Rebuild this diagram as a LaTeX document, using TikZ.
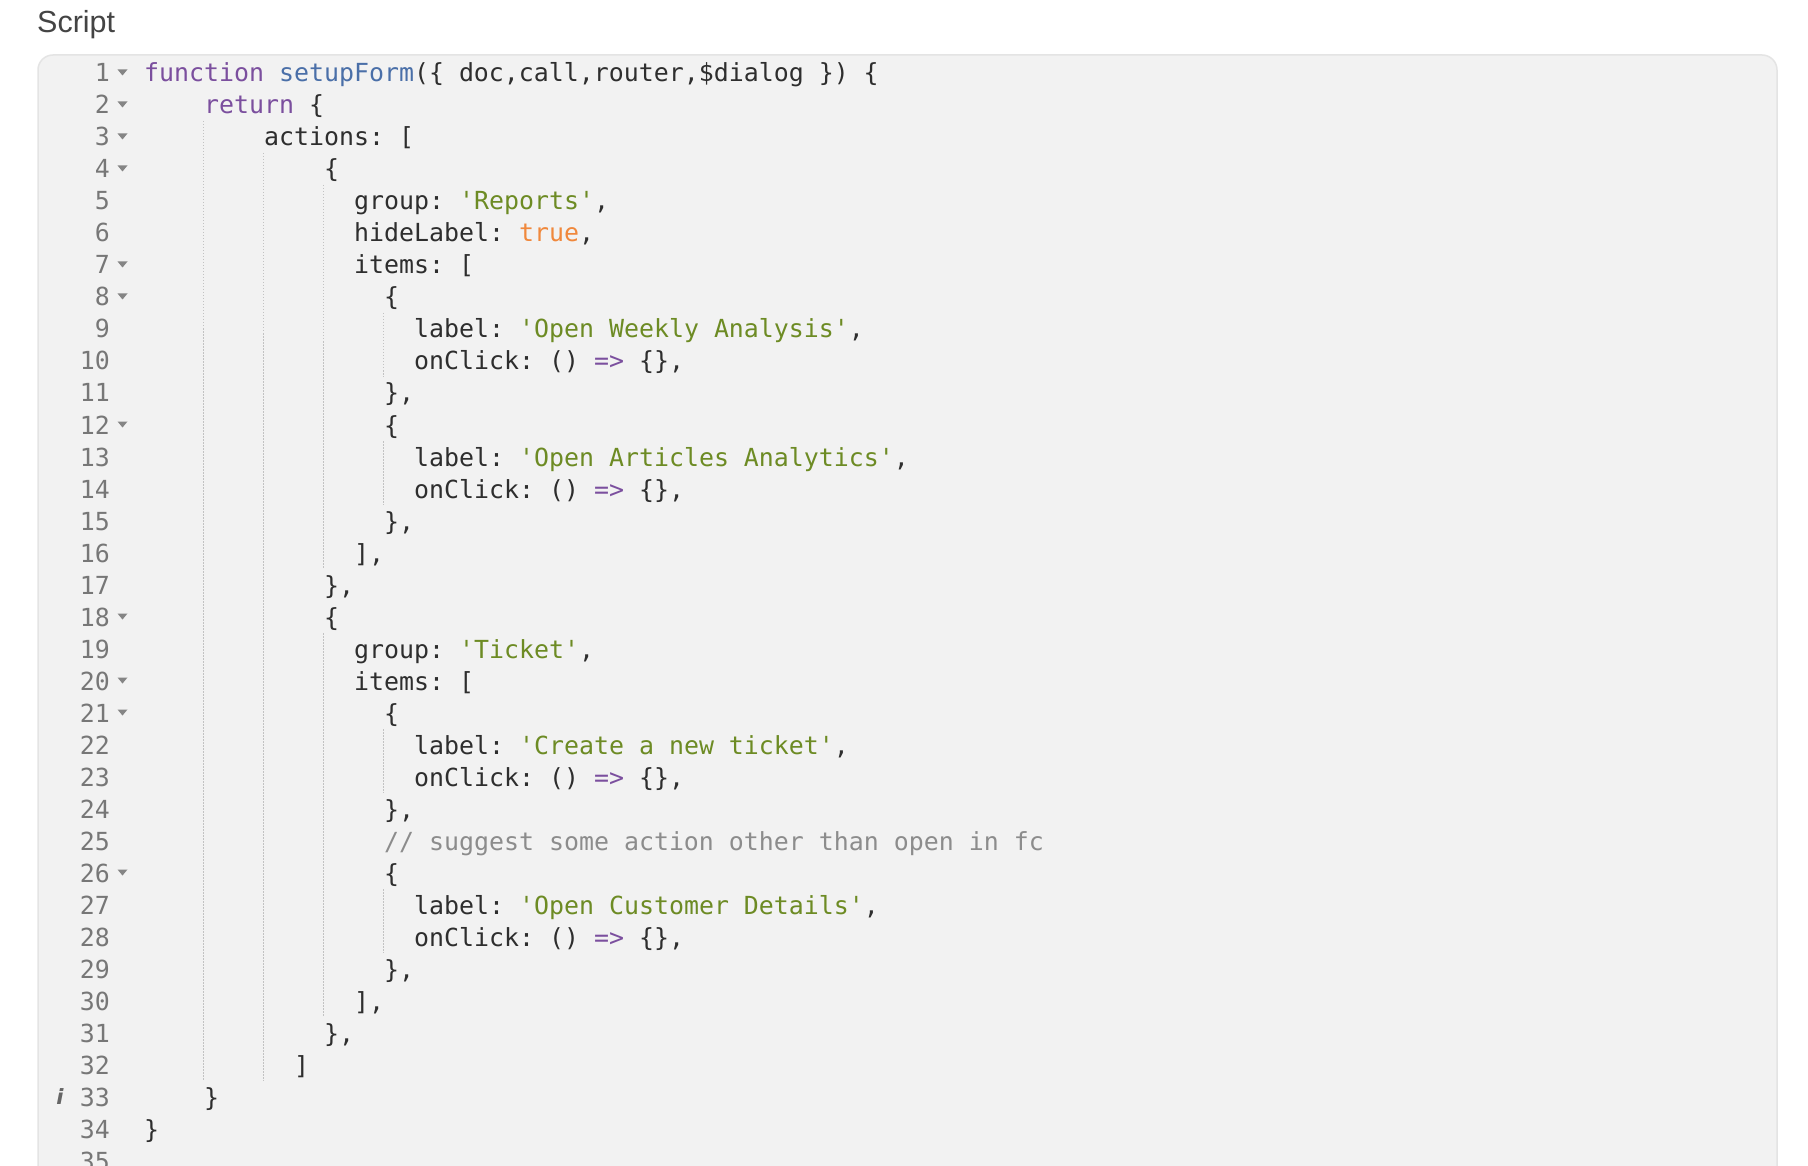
\documentclass[tikz,border=0pt]{standalone}
\usepackage{fontspec}
\setmainfont{Liberation Sans}
\newfontfamily\codefont{DejaVu Sans Mono}[Ligatures=TeXOff]
\newfontfamily\iconfont{DejaVu Sans}
\definecolor{kwc}{HTML}{7B4F9E}
\definecolor{fnc}{HTML}{4A6FA8}
\definecolor{strc}{HTML}{6D8B24}
\definecolor{boolc}{HTML}{F0883C}
\definecolor{comc}{HTML}{8C8C8C}
\definecolor{txtc}{HTML}{2E2E2E}
\definecolor{lnumc}{HTML}{777777}
\definecolor{foldc}{HTML}{858585}
\definecolor{boxfill}{HTML}{F2F2F2}
\definecolor{boxline}{HTML}{E4E4E4}
\definecolor{titlec}{HTML}{444444}
\definecolor{guidec}{HTML}{C2C2C2}
\definecolor{iconc}{HTML}{666666}
\newcommand\ckw[1]{\textcolor{kwc}{#1}}
\newcommand\cfn[1]{\textcolor{fnc}{#1}}
\newcommand\cstr[1]{\textcolor{strc}{#1}}
\newcommand\cbool[1]{\textcolor{boolc}{#1}}
\newcommand\ccom[1]{\textcolor{comc}{#1}}
\begin{document}
\begin{tikzpicture}[x=1pt,y=-1pt,
  codeline/.style={anchor=base west, inner sep=0pt, text=txtc,
    font=\codefont\fontsize{24.9}{32}\selectfont\frenchspacing},
  lnum/.style={anchor=base east, inner sep=0pt, text=lnumc,
    font=\codefont\fontsize{24.9}{32}\selectfont},
  guide/.style={draw=guidec, line width=1pt, dash pattern=on 1.5pt off 1.5pt},
  fold/.style={fill=foldc}]
\useasboundingbox (0,0) rectangle (1808,1166);
\clip (0,0) rectangle (1808,1166);
\fill[white] (0,0) rectangle (1808,1166);
% title
\node[anchor=base west, inner sep=0pt, text=titlec,
  font=\fontsize{30.5}{36}\selectfont] (title) at (37,33) {Script};
% editor box
\draw[fill=boxfill, draw=boxline, line width=1.5pt, rounded corners=15pt]
  (38,55) rectangle (1777,1260);
% indent guides
\draw[guide] (203,121) -- (203,1081);
\draw[guide] (263,153) -- (263,1081);
\draw[guide] (323,185) -- (323,569);
\draw[guide] (323,633) -- (323,1017);
\draw[guide] (383,313) -- (383,377);
\draw[guide] (383,441) -- (383,505);
\draw[guide] (383,729) -- (383,793);
\draw[guide] (383,889) -- (383,953);
% line numbers
\foreach \i in {1,...,35}{
  \node[lnum] (n\i) at (110,{82+32*(\i-1)}) {\i};
}
% fold arrows
\foreach \i in {1,2,3,4,7,8,12,18,20,21,26}{
  \fill[fold] (117.5,{69.5+32*(\i-1)}) -- (127.5,{69.5+32*(\i-1)}) -- (122.5,{75.5+32*(\i-1)}) -- cycle;
}
% info icon
\node[anchor=base, inner sep=0pt, text=iconc,
  font=\iconfont\fontsize{21}{24}\selectfont\bfseries\itshape] (info) at (60,1104) {i};
% code
\node[codeline] (L1) at (144,82) {\ckw{function} \cfn{setupForm}(\{ doc,call,router,\$dialog \}) \{};
\node[codeline] (L2) at (204,114) {\ckw{return} \{};
\node[codeline] (L3) at (264,146) {actions: [};
\node[codeline] (L4) at (324,178) {\{};
\node[codeline] (L5) at (354,210) {group: \cstr{'Reports'},};
\node[codeline] (L6) at (354,242) {hideLabel: \cbool{true},};
\node[codeline] (L7) at (354,274) {items: [};
\node[codeline] (L8) at (384,306) {\{};
\node[codeline] (L9) at (414,338) {label: \cstr{'Open Weekly Analysis'},};
\node[codeline] (L10) at (414,370) {onClick: () \ckw{=>} \{\},};
\node[codeline] (L11) at (384,402) {\},};
\node[codeline] (L12) at (384,434) {\{};
\node[codeline] (L13) at (414,466) {label: \cstr{'Open Articles Analytics'},};
\node[codeline] (L14) at (414,498) {onClick: () \ckw{=>} \{\},};
\node[codeline] (L15) at (384,530) {\},};
\node[codeline] (L16) at (354,562) {],};
\node[codeline] (L17) at (324,594) {\},};
\node[codeline] (L18) at (324,626) {\{};
\node[codeline] (L19) at (354,658) {group: \cstr{'Ticket'},};
\node[codeline] (L20) at (354,690) {items: [};
\node[codeline] (L21) at (384,722) {\{};
\node[codeline] (L22) at (414,754) {label: \cstr{'Create a new ticket'},};
\node[codeline] (L23) at (414,786) {onClick: () \ckw{=>} \{\},};
\node[codeline] (L24) at (384,818) {\},};
\node[codeline] (L25) at (384,850) {\ccom{// suggest some action other than open in fc}};
\node[codeline] (L26) at (384,882) {\{};
\node[codeline] (L27) at (414,914) {label: \cstr{'Open Customer Details'},};
\node[codeline] (L28) at (414,946) {onClick: () \ckw{=>} \{\},};
\node[codeline] (L29) at (384,978) {\},};
\node[codeline] (L30) at (354,1010) {],};
\node[codeline] (L31) at (324,1042) {\},};
\node[codeline] (L32) at (294,1074) {]};
\node[codeline] (L33) at (204,1106) {\}};
\node[codeline] (L34) at (144,1138) {\}};
\end{tikzpicture}
\end{document}
